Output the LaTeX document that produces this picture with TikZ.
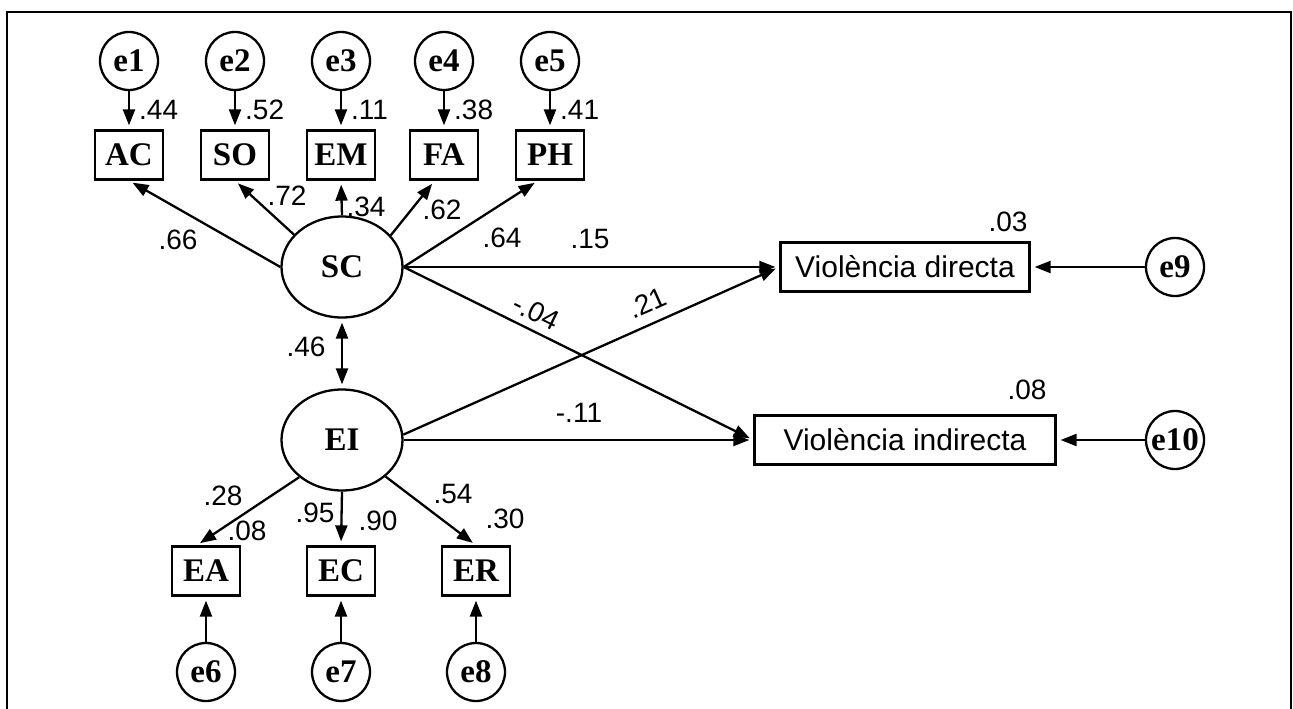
\documentclass[tikz,border=0pt]{standalone}
\usepackage{fontspec}
\setmainfont{Liberation Serif}
\setsansfont{Liberation Sans}
\usetikzlibrary{shapes.geometric, arrows.meta}

\begin{document}
\begin{tikzpicture}[x=1pt, y=-1pt, line width=2.3pt,
        errvar/.style={draw, circle, minimum size=58pt, inner sep=0pt, font=\bfseries\fontsize{33}{38}\selectfont},
        obsvar/.style={draw, rectangle, minimum width=68pt, minimum height=49pt, inner sep=0pt, font=\bfseries\fontsize{33}{38}\selectfont},
        latvar/.style={draw, ellipse, minimum width=121pt, minimum height=101pt, inner sep=0pt, font=\bfseries\fontsize{33}{38}\selectfont},
        outvar/.style={draw, rectangle, minimum height=49pt, inner sep=0pt, font=\sffamily\fontsize{30}{36}\selectfont},
        coef/.style={inner sep=0pt, font=\sffamily\fontsize{28}{34}\selectfont},
        arr/.style={-{Triangle[length=16pt, width=12pt]}, shorten >=4pt}]
    \useasboundingbox (0,0) rectangle (1293,709);
    \draw (7,709) -- (7,12) -- (1291,12) -- (1291,709);

    % latent variables
    \node [latvar] (SC) at (342,267) {SC};
    \node [latvar] (EI) at (342,440) {EI};

    % indicators of SC and their errors
    \node [obsvar] (AC) at (129,155) {AC};
    \node [obsvar] (SO) at (235,155) {SO};
    \node [obsvar] (EM) at (341,155) {EM};
    \node [obsvar] (FA) at (444,155) {FA};
    \node [obsvar] (PH) at (550,155) {PH};
    \node [errvar] (e1) at (129,61) {e1};
    \node [errvar] (e2) at (235,61) {e2};
    \node [errvar] (e3) at (341,61) {e3};
    \node [errvar] (e4) at (444,61) {e4};
    \node [errvar] (e5) at (550,61) {e5};

    % indicators of EI and their errors
    \node [obsvar] (EA) at (206,571) {EA};
    \node [obsvar] (EC) at (341,571) {EC};
    \node [obsvar] (ER) at (476,571) {ER};
    \node [errvar] (e6) at (206,672) {e6};
    \node [errvar] (e7) at (341,672) {e7};
    \node [errvar] (e8) at (476,672) {e8};

    % outcomes
    \node [outvar, minimum width=249pt] (VD) at (905,267) {Violència directa};
    \node [outvar, minimum width=301pt] (VI) at (905,440) {Violència indirecta};
    \node [errvar] (e9) at (1175,267) {e9};
    \node [errvar] (e10) at (1175,440) {e10};

    % error paths
    \draw [arr] (e1) -- (AC);
    \draw [arr] (e2) -- (SO);
    \draw [arr] (e3) -- (EM);
    \draw [arr] (e4) -- (FA);
    \draw [arr] (e5) -- (PH);
    \draw [arr] (e6) -- (EA);
    \draw [arr] (e7) -- (EC);
    \draw [arr] (e8) -- (ER);
    \draw [arr] (e9) -- (VD);
    \draw [arr] (e10) -- (VI);

    % loadings
    \draw [arr] (SC.west) -- (AC.south);
    \draw [arr] (SC.146) -- (SO.south);
    \draw [arr] (SC.north) -- (EM.south);
    \draw [arr] (SC.33) -- (FA.250);
    \draw [arr] (SC.east) -- (PH.245);
    \draw [arr] (EI.221) -- (EA.110);
    \draw [arr] (EI.south) -- (EC.north);
    \draw [arr] (EI.-40) -- (ER.north);

    % structural paths
    \draw [{Triangle[length=16pt, width=12pt]}-{Triangle[length=16pt, width=12pt]}, shorten <=4pt, shorten >=4pt] (SC) -- (EI);
    \draw [arr] (SC.east) -- (VD.west);
    \draw [arr] (SC.east) -- (VI.west);
    \draw [arr] (EI.5) -- (VD.west);
    \draw [arr] (EI.east) -- (VI.west);

    % coefficients
    \node [coef, anchor=west] (r1) at (138,110) {.44};
    \node [coef, anchor=west] (r2) at (244,110) {.52};
    \node [coef, anchor=west] (r3) at (350,110) {.11};
    \node [coef, anchor=west] (r4) at (453,110) {.38};
    \node [coef, anchor=west] (r5) at (559,110) {.41};
    \node [coef] (l1) at (178,240) {.66};
    \node [coef] (l2) at (287,196) {.72};
    \node [coef] (l3) at (366,207) {.34};
    \node [coef] (l4) at (442,210) {.62};
    \node [coef] (l5) at (502,238) {.64};
    \node [coef] (l6) at (223,496) {.28};
    \node [coef] (r6) at (247,531) {.08};
    \node [coef] (l7) at (315,513) {.95};
    \node [coef] (r7) at (378,521) {.90};
    \node [coef] (l8) at (453,494) {.54};
    \node [coef] (r8) at (505,519) {.30};
    \node [coef] (cor) at (306,347) {.46};
    \node [coef] (b1) at (590,239) {.15};
    \node [coef, rotate=-26] (b2) at (536,312) {-.04};
    \node [coef, rotate=24] (b3) at (647,303) {.21};
    \node [coef] (b4) at (579,413) {-.11};
    \node [coef] (r9) at (1008,222) {.03};
    \node [coef] (r10) at (1027,390) {.08};
\end{tikzpicture}
\end{document}
